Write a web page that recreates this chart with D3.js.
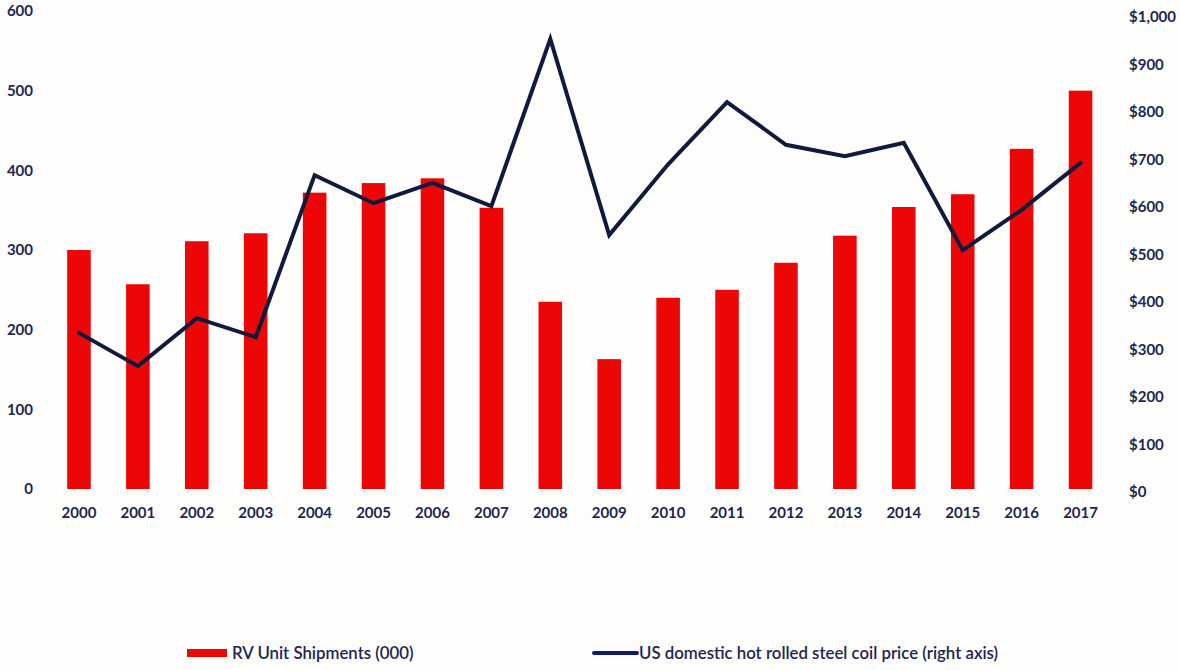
<!DOCTYPE html>
<html>
<head>
<meta charset="utf-8">
<script src="https://cdn.jsdelivr.net/npm/d3@7"></script>
<style>
  html, body { margin: 0; padding: 0; background: #fdfdfc; }
  svg { display: block; }
  .tick text { font-family: Lato, "Open Sans", sans-serif; font-weight: 700; font-size: 15px; fill: #1f2650; }
  .legend text { font-family: Lato, "Open Sans", sans-serif; font-weight: 600; font-size: 16.8px; fill: #1f2650; }
</style>
</head>
<body>
<svg id="chart" width="1180" height="670"></svg>
<script>
// RV unit shipments (thousands) and US hot rolled coil steel price, 2000-2017
const years = ["2000","2001","2002","2003","2004","2005","2006","2007","2008",
               "2009","2010","2011","2012","2013","2014","2015","2016","2017"];
const rvShipments = [300, 257, 311, 321, 372, 384, 390, 353, 235,
                     163, 240, 250, 284, 318, 354, 370, 427, 500];
const steelPrice = [335, 265, 366, 326, 667, 608, 651, 602, 954,
                    541, 690, 821, 731, 707, 735, 509, 594, 693];
const leftTicks = [0, 100, 200, 300, 400, 500, 600];
const rightTicks = [0, 100, 200, 300, 400, 500, 600, 700, 800, 900, 1000];

const svg = d3.select("#chart");
const plot = { left: 49.5, right: 1110, top: 11, bottom: 489 };

const x = d3.scaleBand().domain(years).range([plot.left, plot.right]).paddingInner(0.6).paddingOuter(0.3);
const yLeft = d3.scaleLinear().domain([0, 600]).range([plot.bottom, plot.top]);
const yRight = d3.scaleLinear().domain([0, 1000]).range([492, 17]);

// Bars: RV shipments on the left axis
svg.append("g")
  .selectAll("rect")
  .data(years.map((yr, i) => ({ yr, v: rvShipments[i] })))
  .join("rect")
  .attr("x", d => x(d.yr))
  .attr("width", x.bandwidth())
  .attr("y", d => yLeft(d.v))
  .attr("height", d => yLeft(0) - yLeft(d.v))
  .attr("fill", "#ec0606");

// Line: steel price on the right axis
const line = d3.line()
  .x((d, i) => x(years[i]) + x.bandwidth() / 2)
  .y(d => yRight(d));
svg.append("path")
  .datum(steelPrice)
  .attr("d", line)
  .attr("fill", "none")
  .attr("stroke", "#101a3c")
  .attr("stroke-width", 4)
  .attr("stroke-linejoin", "miter")
  .attr("stroke-linecap", "round");

// Left axis
const gl = svg.append("g")
  .attr("transform", "translate(33,0)")
  .call(d3.axisLeft(yLeft).tickValues(leftTicks).tickSize(0).tickPadding(0));
gl.select(".domain").remove();

// Right axis
const gr = svg.append("g")
  .attr("transform", "translate(1129,0)")
  .call(d3.axisRight(yRight).tickValues(rightTicks).tickSize(0).tickPadding(0)
    .tickFormat(d => "$" + d3.format(",")(d)));
gr.select(".domain").remove();

// Category axis
const gx = svg.append("g")
  .attr("transform", "translate(0,507)")
  .call(d3.axisBottom(x).tickSize(0).tickPadding(0));
gx.select(".domain").remove();

// Legend
const legend = svg.append("g").attr("class", "legend");
legend.append("rect")
  .attr("x", 187).attr("y", 649).attr("width", 40).attr("height", 8)
  .attr("fill", "#ec0606");
legend.append("text")
  .attr("x", 232).attr("y", 653).attr("dy", "0.35em")
  .text("RV Unit Shipments (000)");
legend.append("line")
  .attr("x1", 594).attr("x2", 637).attr("y1", 653).attr("y2", 653)
  .attr("stroke", "#101a6a").attr("stroke-width", 4).attr("stroke-linecap", "round");
legend.append("text")
  .attr("x", 639).attr("y", 653).attr("dy", "0.35em")
  .text("US domestic hot rolled steel coil price (right axis)");
</script>
</body>
</html>
